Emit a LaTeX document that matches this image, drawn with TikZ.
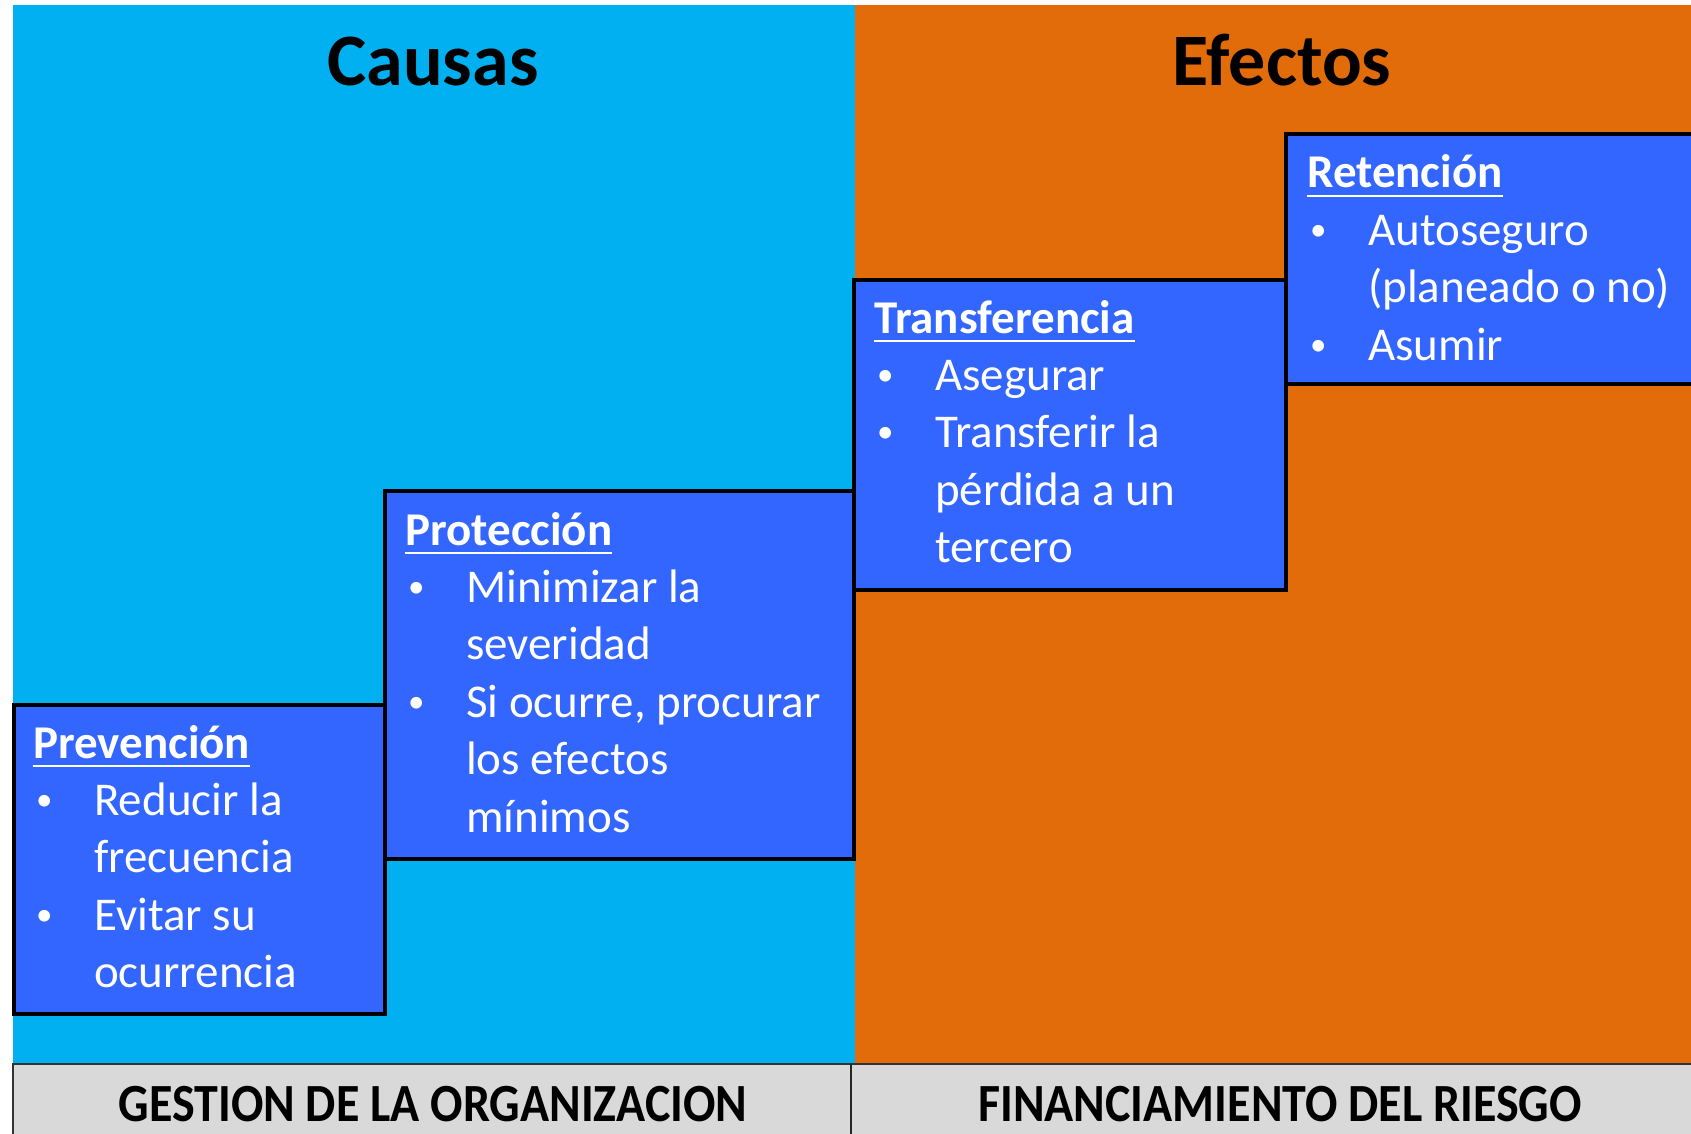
\documentclass[tikz,border=0pt]{standalone}
\usepackage{fontspec}
\setmainfont{Carlito}
\definecolor{causeblue}{HTML}{00B0F0}
\definecolor{effectorange}{HTML}{E36C0A}
\definecolor{panelblue}{HTML}{3366FF}
\definecolor{bargray}{HTML}{D9D9D9}
\newcommand\ulword[1]{\leavevmode\setbox0\hbox{#1}\rlap{\rule[-9pt]{\wd0}{2.4pt}}\box0}
\newcommand\bulletmark{\makebox[61pt][l]{\hspace{3pt}\raisebox{5pt}{\fontsize{33}{33}\selectfont\textbullet}}}
\newcommand\indentmark{\hspace*{61pt}}
\newcommand\paneltext[1]{\parbox[t]{760pt}{\fontsize{47}{57.4}\selectfont\raggedright #1}}
\newcommand\tallbar[1]{\scalebox{1}[1.12]{#1}}
\tikzset{
  panel/.style={draw=black, line width=4pt, fill=panelblue},
  paneltxt/.style={anchor=base west, inner sep=0pt, text=white},
  headtxt/.style={anchor=base, inner sep=0pt, font=\fontsize{74}{80}\selectfont\bfseries},
  bartxt/.style={anchor=base, inner sep=0pt, font=\fontsize{48}{56}\selectfont\bfseries},
}
\begin{document}
\begin{tikzpicture}[x=1pt,y=-1pt]
\path[use as bounding box] (0,0) rectangle (1691,1134);
\clip (0,0) rectangle (1691,1134);
\fill[white] (0,0) rectangle (1691,1134);
% backgrounds
\fill[causeblue] (13,5) rectangle (855,1064);
\fill[effectorange] (855,5) rectangle (1691,1064);
% bottom bar
\fill[bargray] (13,1064) rectangle (1691,1140);
\draw[line width=2pt, black!80] (1691,1064) -- (13,1064) -- (13,1140);
\draw[line width=1.6pt, black!85] (851,1064) -- (851,1140);
\node[bartxt] (gestion) at (433,1121) {\tallbar{GESTION DE LA ORGANIZACION}};
\node[bartxt] (financ) at (1280,1121) {\tallbar{FINANCIAMIENTO DEL RIESGO}};
% headings
\node[headtxt] (causas) at (433,86) {Causas};
\node[headtxt] (efectos) at (1282,86) {Efectos};
% panels
\draw[panel] (13.5,705) rectangle (385,1013.5) node[pos=0.5] (prevbox) {};
\draw[panel] (385,491) rectangle (854,859) node[pos=0.5] (protbox) {};
\draw[panel] (854,280) rectangle (1286,590) node[pos=0.5] (transbox) {};
\draw[panel] (1286,134) rectangle (1720,384) node[pos=0.5] (retbox) {};
% panel texts
\node[paneltxt] (prevtxt) at (33,758) {\paneltext{%
\ulword{\textbf{Prevención}}\\
\bulletmark Reducir la\\
\indentmark frecuencia\\
\bulletmark Evitar su\\
\indentmark ocurrencia}};
\node[paneltxt] (prottxt) at (405,545) {\paneltext{%
\ulword{\textbf{Protección}}\\
\bulletmark Minimizar la\\
\indentmark severidad\\
\bulletmark Si ocurre, procurar\\
\indentmark los efectos\\
\indentmark mínimos}};
\node[paneltxt] (transtxt) at (874,333) {\paneltext{%
\ulword{\textbf{Transferencia}}\\
\bulletmark Asegurar\\
\bulletmark Transferir la\\
\indentmark pérdida a un\\
\indentmark tercero}};
\node[paneltxt] (rettxt) at (1307,188) {\paneltext{%
\ulword{\textbf{Retención}}\\
\bulletmark Autoseguro\\
\indentmark (planeado o no)\\
\bulletmark Asumir}};
\end{tikzpicture}
\end{document}
